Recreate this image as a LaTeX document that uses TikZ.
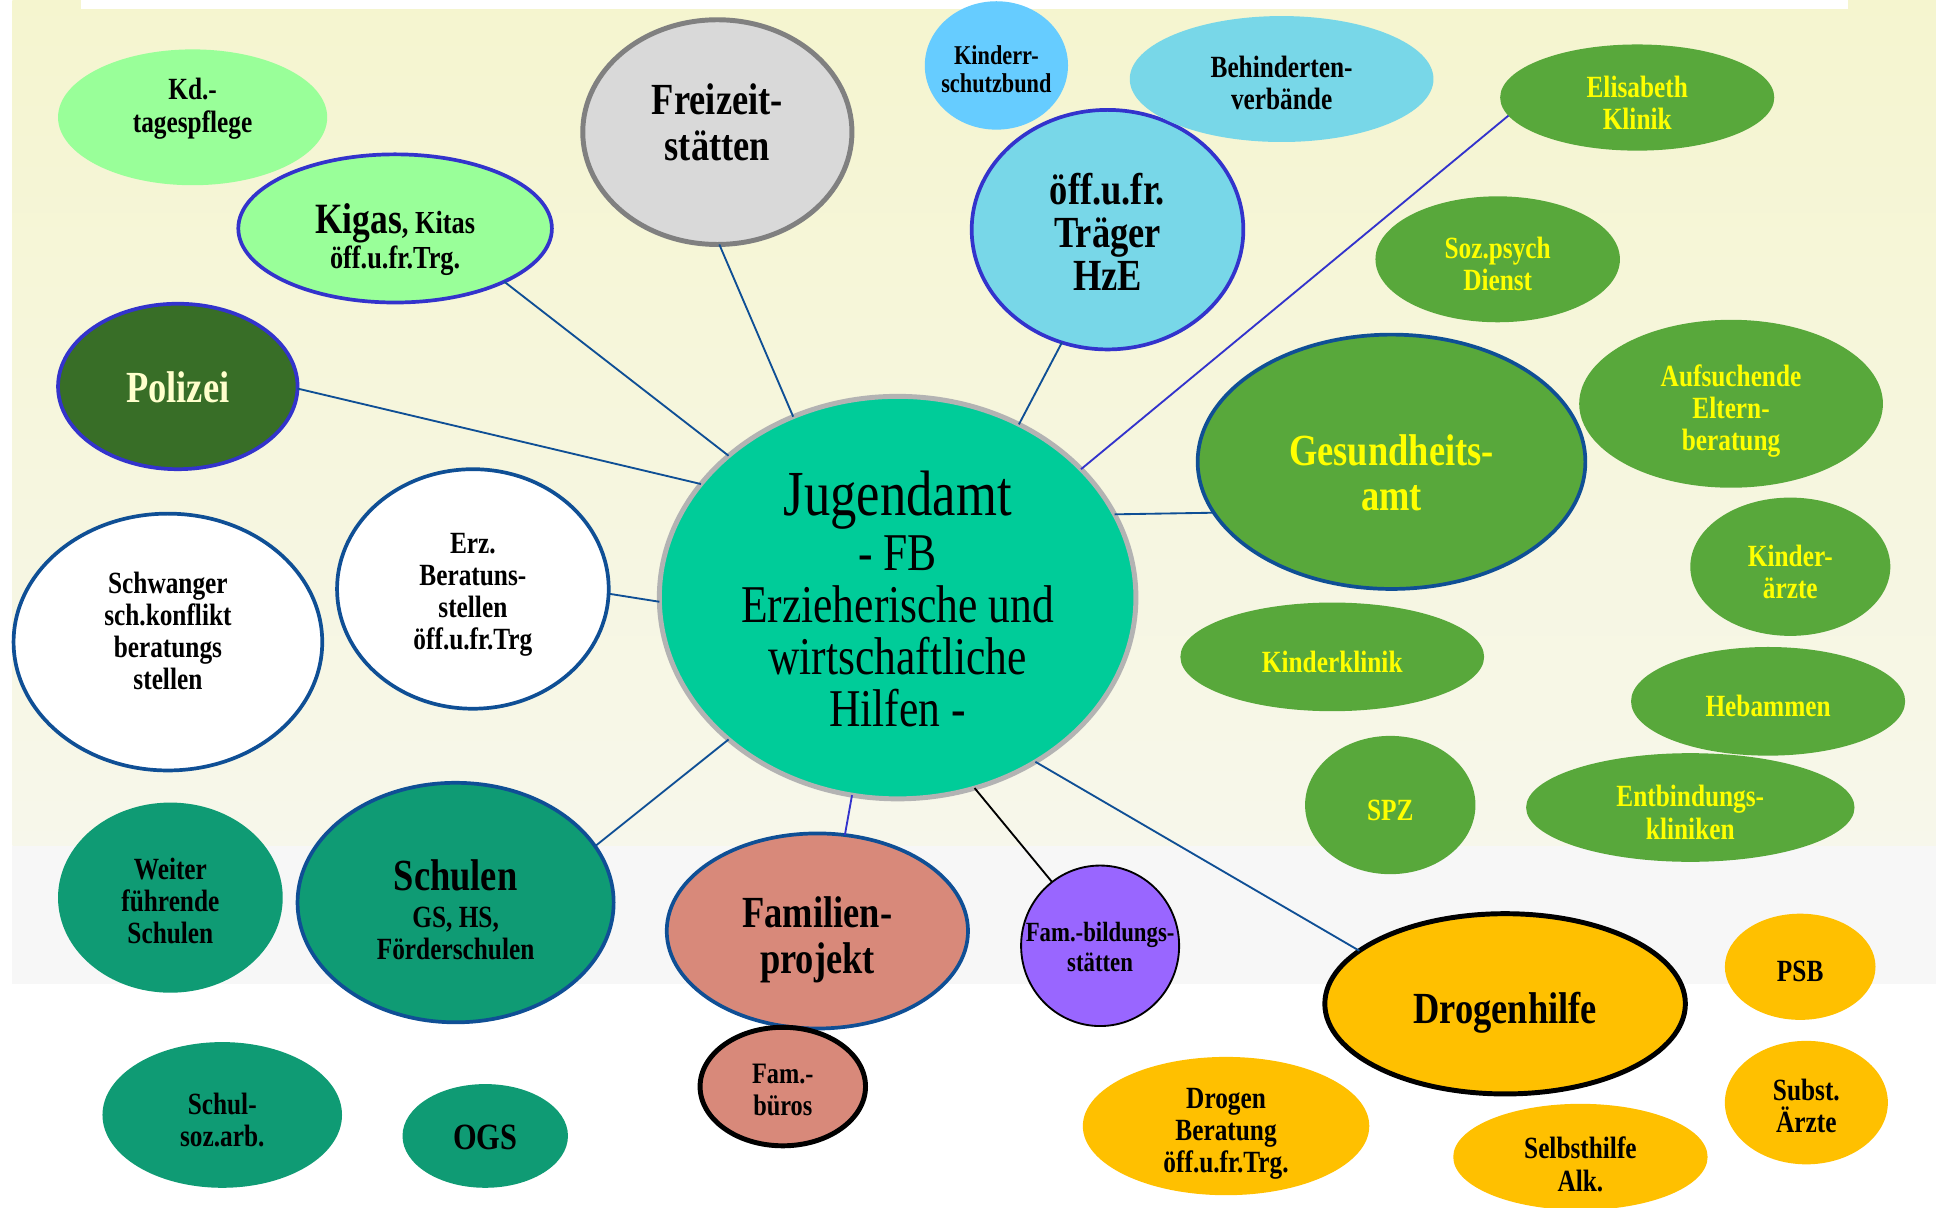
\documentclass[tikz,border=0pt]{standalone}
\usepackage{fontspec}
\setmainfont{Liberation Serif}[FakeStretch=0.82]
\usetikzlibrary{shapes.geometric}
\definecolor{bgtop}{HTML}{F5F5CF}
\definecolor{bgbot}{HTML}{F7F7EB}
\definecolor{bandgrey}{HTML}{F7F7F7}
\definecolor{cLgreen}{HTML}{99FF99}
\definecolor{cViolet}{HTML}{3333CC}
\definecolor{cDblue}{HTML}{0F4F95}
\definecolor{cPolgreen}{HTML}{386E27}
\definecolor{cPale}{HTML}{FFFFCC}
\definecolor{cLgrey}{HTML}{D9D9D9}
\definecolor{cMgrey}{HTML}{808080}
\definecolor{cJgrey}{HTML}{B3B3B3}
\definecolor{cSky}{HTML}{66CCFF}
\definecolor{cCyan}{HTML}{78D7E8}
\definecolor{cMgreen}{HTML}{58A83B}
\definecolor{cJgreen}{HTML}{00CC99}
\definecolor{cTeal}{HTML}{0F9B74}
\definecolor{cSalmon}{HTML}{D8897A}
\definecolor{cPurp}{HTML}{9966FF}
\definecolor{cOrange}{HTML}{FFC000}
\definecolor{cYel}{HTML}{FFFF00}
\begin{document}
\begin{tikzpicture}[x=1pt,y=-1pt,
  bub/.style={ellipse, inner sep=0pt, outer sep=0pt},
  sz/.style 2 args={minimum width=#1, minimum height=#2},
  lbl/.style={align=center, inner sep=0pt, yshift=-4pt, font=\bfseries\fontsize{25}{26}\selectfont},
  big/.style={font=\bfseries\fontsize{36}{37}\selectfont},
  grn/.style={bub, fill=cMgreen},
  org/.style={bub, fill=cOrange},
  tl/.style={bub, fill=cTeal},
  ylw/.style={text=cYel},
  con/.style={draw=cDblue, line width=1.5pt},
]
\useasboundingbox (0,0) rectangle (1568,978);
\fill[white] (0,0) rectangle (1568,978);
\shade[top color=bgtop, bottom color=bgbot] (10,0) rectangle (1568,685);
\fill[bandgrey] (10,685) rectangle (1568,797);
\fill[white] (66,0) rectangle (1497,7);

% left / top
\node[bub, fill=cLgreen, sz={218}{110}, label={[lbl,yshift=11pt]center:{Kd.-\\tagespflege}}] (kd) at (156,95) {};
\node[bub, fill=cLgreen, draw=cViolet, line width=3pt, sz={254}{120},
  label={[lbl,font=\bfseries\fontsize{26}{29}\selectfont,yshift=-5pt]center:{{\fontsize{35}{35}\selectfont Kigas}, Kitas\\öff.u.fr.Trg.}}] (kigas) at (320,185) {};
\node[bub, fill=cPolgreen, draw=cViolet, line width=3pt, sz={194}{134},
  label={[lbl,big,text=cPale,yshift=3pt]center:{Polizei}}] (polizei) at (144,313) {};
\node[bub, fill=cLgrey, draw=cMgrey, line width=4pt, sz={218}{182},
  label={[lbl,big,yshift=12pt]center:{Freizeit-\\stätten}}] (freizeit) at (581,107) {};
\node[bub, fill=cSky, sz={116}{104},
  label={[lbl,font=\bfseries\fontsize{22}{23}\selectfont,yshift=1pt]center:{Kinderr-\\schutzbund}}] (kinderr) at (807,53) {};
\node[bub, fill=cCyan, draw=cViolet, line width=3pt, sz={220}{194},
  label={[lbl,font=\bfseries\fontsize{36}{35}\selectfont,yshift=2pt]center:{öff.u.fr.\\Träger\\HzE}}] (hze) at (897,186) {};
\node[bub, fill=cCyan, sz={246}{102}, label={[lbl,yshift=1pt]center:{Behinderten-\\verbände}}] (behind) at (1038,64) {};

% health (green)
\node[grn, sz={222}{86}, label={[lbl,ylw]center:{Elisabeth\\Klinik}}] (elis) at (1326,79) {};
\node[grn, sz={198}{102}, label={[lbl,ylw]center:{Soz.psych\\Dienst}}] (sozpsych) at (1213,210) {};
\node[grn, draw=cDblue, line width=3pt, sz={314}{206},
  label={[lbl,big,ylw,yshift=-5pt]center:{Gesundheits-\\amt}}] (gesund) at (1127,374) {};
\node[grn, sz={246}{136}, label={[lbl,ylw,yshift=-2pt]center:{Aufsuchende\\Eltern-\\beratung}}] (aufs) at (1402,327) {};
\node[grn, sz={162}{112}, label={[lbl,ylw]center:{Kinder-\\ärzte}}] (kaerzte) at (1450,459) {};
\node[grn, sz={246}{88}, label={[lbl,ylw]center:{Kinderklinik}}] (kklinik) at (1079,532) {};
\node[grn, sz={222}{88}, label={[lbl,ylw]center:{Hebammen}}] (hebammen) at (1432,568) {};
\node[grn, sz={138}{112}, label={[lbl,ylw]center:{SPZ}}] (spz) at (1126,652) {};
\node[grn, sz={266}{88}, label={[lbl,ylw]center:{Entbindungs-\\kliniken}}] (entb) at (1369,654) {};

% centre
\node[bub, fill=cJgreen, draw=cJgrey, line width=4pt, sz={386}{326},
  label={[align=center, inner sep=0pt, yshift=-1pt, font=\mdseries\fontsize{43}{42}\selectfont]center:{{\fontsize{52}{52}\selectfont Jugendamt}\\[3pt]- FB\\Erzieherische und\\wirtschaftliche\\Hilfen -}}] (jug) at (727,484) {};

% left middle
\node[bub, fill=white, draw=cDblue, line width=3pt, sz={220}{194},
  label={[lbl,yshift=-1pt]center:{Erz.\\Beratuns-\\stellen\\öff.u.fr.Trg}}] (erz) at (383,477) {};
\node[bub, fill=white, draw=cDblue, line width=3pt, sz={250}{208},
  label={[lbl,yshift=13pt]center:{Schwanger\\sch.konflikt\\beratungs\\stellen}}] (schw) at (136,520) {};

% schools
\node[tl, sz={182}{154}, label={[lbl,yshift=1pt]center:{Weiter\\führende\\Schulen}}] (weiter) at (138,727) {};
\node[tl, draw=cDblue, line width=3pt, sz={256}{194},
  label={[lbl,yshift=-2pt]center:{{\fontsize{36}{36}\selectfont Schulen}\\[4pt]GS, HS,\\Förderschulen}}] (schulen) at (369,731) {};
\node[tl, sz={194}{118}, label={[lbl]center:{Schul-\\soz.arb.}}] (schulsoz) at (180,903) {};
\node[tl, sz={134}{84}, label={[lbl,font=\bfseries\fontsize{30}{30}\selectfont,yshift=3pt]center:{OGS}}] (ogs) at (393,920) {};

% family
\node[bub, fill=cSalmon, draw=cDblue, line width=3pt, sz={244}{158},
  label={[lbl,font=\bfseries\fontsize{36}{37}\selectfont,yshift=-3pt]center:{Familien-\\projekt}}] (famproj) at (662,754) {};
\node[bub, fill=cSalmon, draw=black, line width=4pt, sz={134}{96},
  label={[lbl,font=\bfseries\fontsize{24}{26}\selectfont,yshift=1pt]center:{Fam.-\\büros}}] (fambuero) at (634,880) {};
\node[bub, fill=cPurp, draw=black, line width=1.5pt, sz={128}{130},
  label={[lbl,font=\bfseries\fontsize{22.5}{24}\selectfont,yshift=3pt]center:{Fam.-bildungs-\\stätten}}] (fambild) at (891,766) {};

% drugs (orange)
\node[org, draw=black, line width=4pt, sz={292}{146},
  label={[lbl,big,yshift=-3pt]center:{Drogenhilfe}}] (drogen) at (1219,813) {};
\node[org, sz={122}{86}, label={[lbl]center:{PSB}}] (psb) at (1458,783) {};
\node[org, sz={132}{100}, label={[lbl,yshift=1pt]center:{Subst.\\Ärzte}}] (subst) at (1463,893) {};
\node[org, sz={232}{112}, label={[lbl,yshift=-2pt]center:{Drogen\\Beratung\\öff.u.fr.Trg.}}] (drogber) at (993,912) {};
\node[org, sz={206}{86}, label={[lbl,yshift=-2pt]center:{Selbsthilfe\\Alk.}}] (selbst) at (1280,937) {};

% connectors
\draw[con] (polizei.-1) -- (jug.150);
\draw[con] (kigas.-26) -- (jug.140);
\draw[con] (freizeit.-89) -- (jug.120);
\draw[con] (hze.248) -- (jug.55);
\draw[con, draw=cViolet] (elis.188) -- (jug.35);
\draw[con] (gesund.196) -- (jug.21);
\draw[con] (erz.-2) -- (jug.181);
\draw[con] (schulen.22) -- (jug.220);
\draw[con, draw=cViolet] (famproj.74) -- (jug.257);
\draw[con, draw=black] (fambild.127) -- (jug.292);
\draw[con] (drogen.160) -- (jug.310);
\end{tikzpicture}
\end{document}
